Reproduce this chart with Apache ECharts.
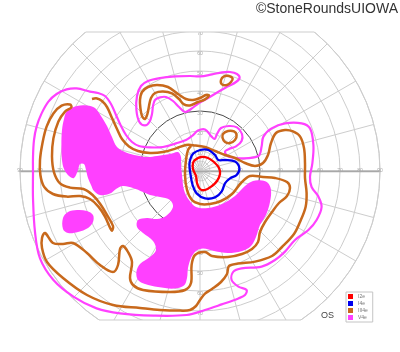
<!DOCTYPE html>
<html><head><meta charset="utf-8">
<script src="https://cdn.jsdelivr.net/npm/echarts@6/dist/echarts.min.js"></script>
<style>html,body{margin:0;padding:0;background:#fff}#c{width:400px;height:352px}</style>
</head><body><div id="c"></div>
<script>
// ---- tick labels (degrees of eccentricity) ----
const ringTicks = [10, 20, 30, 40, 50, 60, 70, 80, 90];
const legendNames = ['I2e', 'I4e', 'III4e', 'V4e'];

// ---- isopters, [x deg (temporal-/nasal+), y deg (sup+/inf-)] ----
const i2eLoop = [[-2.5,5.5],[0.5,7],[4,6.5],[7,4.5],[9.5,1.5],[10,-1.5],[8.5,-5],[6,-7.5],[2.5,-9.5],[0,-9],[-1.5,-6],[-2,-2.5],[-3.5,1],[-3.5,4]];

const i4eLoop = [[-3.3,8.8],[0,10.5],[4.2,10.5],[7.5,8],[9.2,5.5],[12.5,5.5],[17.5,4.7],[19.7,1.3],[18.3,-2],[15,-3.7],[12.5,-6.2],[10.8,-10.3],[7.5,-13.2],[2.5,-13.7],[-1.7,-11.2],[-3.7,-7],[-4.7,-2],[-5.3,3],[-4.7,6.3]];

const iii4eMain = [[-54,36],[-51.5,36.3],[-49,35],[-46.5,32],[-44,26.5],[-41.5,21],[-39,16],[-35.5,12.3],[-31,10],[-25,9],[-18.5,9.5],[-12,11.3],[-7,13],
[-2.5,12.8],[2.5,12],[7.5,10],[12.5,8],[17.5,6.5],[22.5,4],[27.5,2.5],[31.5,4],[34,8],[35.5,14],[38,19],
[42.5,20.5],[46.5,19.8],[50,17.3],[52,11.5],[52.5,4],[52.5,-3.5],[53.3,-11],[52.8,-18],[50,-25.5],[47,-31.5],[41,-38],[36,-42.5],
[27.5,-45.3],[19,-46.3],[14.5,-47.5],[13.5,-51.5],[10.5,-55.5],[6,-59],[2.5,-61.3],[0,-64.5],[-2,-67.5],[-5,-69.5],[-10,-69.8],[-20,-69.5],[-30,-68.5],[-43.5,-67],[-56.5,-62],[-68.5,-53.5],[-76.5,-45.5],[-79,-38.5],[-79,-33.5],[-77.5,-31],
[-73.5,-36],[-68.5,-36.5],[-63.5,-36],[-56.5,-41],[-50,-47],[-43.5,-50.5],[-41,-47],[-40,-39],[-38.5,-37.5],[-36,-40.5],[-34,-45.5],[-35,-53.5],[-33.5,-57],[-28.5,-59.5],[-15,-60.5],[-7.5,-59.5],[-4.5,-56],[-4.2,-47],[-2.5,-42],[2.5,-40.5],
[6,-42.5],[14,-43],[21,-41.5],[26,-39],[29,-35.5],[30,-30.5],[32.5,-25.5],[36,-20.5],[39.5,-16],[43.5,-12.5],[45,-8.5],[43.5,-5.5],[37.5,-3.5],[31.5,-3],
[25,-2.5],[20.5,-6],[16,-11.5],[10.5,-15],[5,-16.5],[0,-16.5],[-4,-14.5],[-6.5,-9.5],[-7.5,-2],[-7,5.5],[-6,10.5],[-4.5,12.5]];

const iii4eFinger = [[-65,33.3],[-69.2,32.7],[-73.3,28.8],[-76.7,22.2],[-78.8,13.8],[-80,5.5],[-79.8,-2],[-78,-7.8],[-73.5,-11.5],[-66.7,-12.8],[-60,-12.5],[-55,-14],[-50.8,-17.8],[-47.5,-22.8],[-45,-28.3],[-44,-29.8],
[-43.5,-27.5],[-46.3,-22.3],[-49.7,-16.7],[-53.7,-12],[-58.3,-9],[-65,-8.3],[-70,-6.2],[-73,-0.7],[-74,7.2],[-73.3,16.3],[-70.8,24.7],[-67.5,29.7],[-64.3,31.8]];

const iii4eUpperS = [[-30,35.5],[-29,39.5],[-26,42],[-21.5,43],[-16,42],[-11,38.5],[-7,36],[-3.5,35.5],[0,36.5],[3,38],[4.5,37.8],
[2.5,35.8],[-1,34.5],[-5,32.8],[-8,33.3],[-10.5,36],[-14,38.8],[-18.5,39.8],[-22.5,39],[-24.5,36.5],[-25.5,32.5],[-26.3,28.5],[-27.5,26],[-29,27.5],[-29.8,31.5]];

const iii4eUpperDot = [[10.5,45.5],[12,47.3],[14.5,47.5],[16.3,46.3],[15.5,44.5],[13.5,43],[11,43.3]];

const iii4eParaDot = [[11.5,18.5],[14,20],[17,19.8],[18.3,18],[17.5,15.5],[15,14],[12.5,14.5],[11.3,16.5]];

const v4eOuter = [[-4,17.5],[-7,15.5],[-12,13.8],[-18.5,12],[-25,11.8],[-30.5,12.5],[-34,14.5],[-37,18],[-39.5,22.5],[-42,28],[-44.5,33.5],[-47.5,37.5],[-51,39],[-55,39.7],[-61.7,41.3],[-66.7,40.8],[-71.7,38.5],[-75.8,34.7],[-79.2,28.8],[-81.7,22.2],[-83,15.5],[-83.5,7],[-83.5,-1],[-83.5,-13.5],[-82.5,-30.5],[-80,-43.7],[-73.3,-54.5],[-63.3,-62.8],[-51.7,-68.7],[-40,-71.2],[-23.3,-72.3],[-6.7,-72],[2.5,-69.5],[10.8,-66.7],[19.2,-63.7],[22.5,-62],[23.3,-59.5],[19.2,-57.8],[15.8,-54.5],[16.7,-50.3],[20.8,-48.7],[30.8,-47.8],[37.5,-44.5],[42.5,-40.3],[47.5,-34.5],[54.2,-29.5],[58.3,-24.5],[60.8,-18],[59.2,-12.8],[55.8,-8],[55,-3],[56.2,4],[56.7,13],[55,21.3],[50.8,23.8],[42.5,23.8],[35.8,21.3],[31.7,17.2],[30.8,12.2],[29.2,7.5],[20.8,6.3],[14.2,7.2],[12.5,9.7],[14.5,11],[18,12.3],[20.8,15],[21,18.5],[18.5,21.8],[14.5,22.5],[10.5,21.5],[8.5,18.5],[7.3,16],[5.8,17.2],[2.5,20.8],[-1,20.2]];

const v4eIsland = [[-31.5,37.5],[-29.5,42.5],[-26,45],[-20,46.5],[-12.5,47.3],[-5,47.5],[0,47.3],[6,48.3],[11,49.3],[15,49.5],[18.5,48.5],[19.8,46.5],[18,44.5],[14,42.3],[9,39.5],[4,36.5],[-0.5,34],[-4.5,31],[-7.5,29.5],[-10.5,32],[-13.5,35],[-17,37],[-20,36.8],[-22.5,35.5],[-23.5,32.5],[-24,28.5],[-25.3,24.5],[-27.5,22.8],[-30.3,24.5],[-31.8,30.5]];

const v4eScotomaMain = [[-66.5,30],[-61.5,32.5],[-56.5,32.8],[-52.5,31.5],[-49.5,27.5],[-46.5,22.5],[-44,17],[-41.5,12],[-37,9.3],[-31.5,7.8],[-26.5,7],[-21.5,7.5],[-15,8.5],[-11,9.5],[-9.5,7],[-9.5,4],
[-9,-2],[-8,-9.5],[-5.5,-14.5],[-2,-18],[4,-18.5],[11,-16.5],[17.5,-12.5],[22.5,-7.5],[26.5,-5],[31,-4.8],[34,-6],[35.5,-9.5],[35,-15.5],[33,-22],[30,-27],[28,-33],[25.5,-37.5],[21,-40],[14,-41],[7,-40],[1.5,-38.8],[-2,-40],[-4.5,-43.5],[-6,-48.5],[-6.5,-53.5],[-8,-57.3],[-13,-58.8],[-21,-58],[-27.5,-56.5],[-31,-54.5],[-31.8,-50.5],[-30,-46.5],[-25,-43],[-22,-39.5],[-23.5,-35],[-28.5,-31],[-31.5,-28],[-31,-24.5],[-26.5,-23.5],[-21.5,-24],[-17,-22.5],[-13.5,-18],[-15,-14.5],[-20,-13],[-25,-12],[-28.5,-10.5],[-33.5,-8.5],[-38.5,-7.5],[-42,-9],[-45,-11.3],[-50,-12],[-53,-10],[-54.5,-7],[-56,-3.5],[-57,0.5],[-58,3.5],[-60,3.5],[-61,0.5],[-63,-3.5],[-65.5,-2.5],[-68,1],[-69,5.5],[-69.3,13],[-69,20.5],[-68,26]];

const v4eScotomaSmall = [[-68.5,-23.5],[-66,-20.5],[-61.5,-19.5],[-56.5,-20],[-53.5,-22],[-53.5,-25.5],[-56,-28.5],[-61,-30.5],[-66,-31],[-68.5,-29]];

// ---- layout ----
const CX = 200, CY = 171, PX_PER_DEG = 2, RMAX = 90;
const R = RMAX * PX_PER_DEG;
const TOP_CUT = 69.5, BOTTOM_CUT = 74.5; // degrees where the form is cut
const colors = { I2e: '#ff0000', I4e: '#0000ee', III4e: '#c8691c', V4e: '#ff40ff' };

function curveSeries(name, curves, mode, lw) {
  const col = colors[name];
  return {
    type: 'custom', name: name, coordinateSystem: 'cartesian2d',
    itemStyle: { color: col }, silent: true, z: 3,
    data: curves.map((c, i) => [c.pts[0][0], c.pts[0][1], i]),
    encode: { x: 0, y: 1 },
    renderItem: function (params, api) {
      const c = curves[params.dataIndex];
      const points = c.pts.map(p => api.coord(p));
      if (mode === 'fill') {
        return { type: 'polygon', shape: { points: points, smooth: 0.35 }, style: { fill: col, stroke: null } };
      }
      return { type: c.closed ? 'polygon' : 'polyline', shape: { points: points, smooth: 0.35 },
        style: { fill: null, stroke: col, lineWidth: lw, lineJoin: 'round' } };
    }
  };
}

const angleColors = [];
for (let i = 0; i < 24; i++) angleColors.push(i % 12 === 0 ? '#9a9a9a' : '#cdcdcd');
const ringColors = [];
for (let i = 0; i <= 9; i++) ringColors.push(i === 3 ? '#4a4a4a' : '#cdcdcd');

function labelPolar(idx, start, vAlign, showLine) {
  return {
    angle: { polarIndex: idx, type: 'value', min: 0, max: 360, startAngle: start, show: false },
    radius: { polarIndex: idx, type: 'value', min: 0, max: RMAX, interval: 10,
      axisLine: { show: showLine, lineStyle: { color: '#a8a8a8', width: 1.4 } },
      axisTick: { show: false }, splitLine: { show: false },
      axisLabel: { show: true, margin: 0, align: 'center', verticalAlign: vAlign, fontSize: 5,
        color: '#a9a9a9', fontFamily: 'Liberation Sans',
        formatter: v => ringTicks.indexOf(v) >= 0 ? String(v) : '' } }
  };
}
const lp = [labelPolar(1, 0, 'middle', true), labelPolar(2, 90, 'top', false),
            labelPolar(3, 180, 'middle', true), labelPolar(4, 270, 'top', false)];

const dTop = TOP_CUT * PX_PER_DEG, dBot = BOTTOM_CUT * PX_PER_DEG;
const hTop = Math.sqrt(R * R - dTop * dTop), hBot = Math.sqrt(R * R - dBot * dBot);

const option = {
  animation: false,
  backgroundColor: '#fff',
  grid: { left: CX - R, right: 400 - CX - R, top: CY - 85.5 * PX_PER_DEG, bottom: 352 - CY - 85 * PX_PER_DEG },
  xAxis: { type: 'value', min: -90, max: 90, show: false },
  yAxis: { type: 'value', min: -85, max: 85.5, show: false },
  polar: [
    { center: [CX, CY], radius: R },
    { center: [CX, CY], radius: R }, { center: [CX, CY], radius: R },
    { center: [CX, CY], radius: R }, { center: [CX, CY], radius: R },
    { center: [CX, CY], radius: 5 * PX_PER_DEG }
  ],
  angleAxis: [
    { polarIndex: 0, type: 'value', min: 0, max: 360, interval: 15, startAngle: 0,
      axisLine: { show: true, lineStyle: { color: '#cdcdcd', width: 1 } },
      axisTick: { show: false }, axisLabel: { show: false },
      splitLine: { show: true, lineStyle: { color: angleColors, width: 1 } } },
    lp[0].angle, lp[1].angle, lp[2].angle, lp[3].angle,
    { polarIndex: 5, type: 'value', min: 0, max: 360, interval: 15, startAngle: 0,
      axisLine: { show: true, lineStyle: { color: '#c4c4c4', width: 0.8 } },
      axisTick: { show: true, inside: true, length: 5, lineStyle: { color: '#c4c4c4', width: 0.6 } },
      axisLabel: { show: false }, splitLine: { show: false } }
  ],
  radiusAxis: [
    { polarIndex: 0, type: 'value', min: 0, max: RMAX, interval: 10,
      axisLine: { show: false }, axisTick: { show: false }, axisLabel: { show: false },
      splitLine: { show: true, lineStyle: { color: ringColors, width: 1 } } },
    lp[0].radius, lp[1].radius, lp[2].radius, lp[3].radius,
    { polarIndex: 5, type: 'value', min: 0, max: 5, show: false }
  ],
  legend: {
    data: legendNames, orient: 'vertical', left: 346, top: 292,
    itemWidth: 5, itemHeight: 5, itemGap: 2, icon: 'rect',
    padding: [2, 5, 2, 2], borderColor: '#c4c4c4', borderWidth: 1,
    textStyle: { fontSize: 5, color: '#777', fontFamily: 'Liberation Sans' }
  },
  graphic: [
    { type: 'rect', z: 1, shape: { x: 0, y: 0, width: 400, height: CY - dTop }, style: { fill: '#fff' } },
    { type: 'rect', z: 1, shape: { x: 0, y: CY + dBot, width: 400, height: 352 - CY - dBot }, style: { fill: '#fff' } },
    { type: 'line', z: 1, shape: { x1: CX - hTop, y1: CY - dTop, x2: CX + hTop, y2: CY - dTop }, style: { stroke: '#cdcdcd', lineWidth: 1 } },
    { type: 'line', z: 1, shape: { x1: CX - hBot, y1: CY + dBot, x2: CX + hBot, y2: CY + dBot }, style: { stroke: '#cdcdcd', lineWidth: 1 } },
    { type: 'text', z: 10, right: 2, top: 2, style: { text: '©StoneRoundsUIOWA', font: '14px "Liberation Sans"', fill: '#333' } },
    { type: 'text', z: 10, left: 321, top: 311, style: { text: 'OS', font: '9px "Liberation Sans"', fill: '#444' } }
  ],
  series: [
    curveSeries('V4e', [{ pts: v4eScotomaMain }, { pts: v4eScotomaSmall }], 'fill'),
    curveSeries('V4e', [{ pts: v4eOuter, closed: true }, { pts: v4eIsland, closed: true }], 'line', 2.2),
    curveSeries('III4e', [{ pts: iii4eMain, closed: false }, { pts: iii4eFinger, closed: true },
      { pts: iii4eUpperS, closed: true }, { pts: iii4eUpperDot, closed: true }, { pts: iii4eParaDot, closed: true }], 'line', 2.5),
    curveSeries('I4e', [{ pts: i4eLoop, closed: true }], 'line', 2.3),
    curveSeries('I2e', [{ pts: i2eLoop, closed: true }], 'line', 2.3)
  ]
};
const chart = echarts.init(document.getElementById('c'), null, { renderer: 'canvas' });
chart.setOption(option);
</script></body></html>
